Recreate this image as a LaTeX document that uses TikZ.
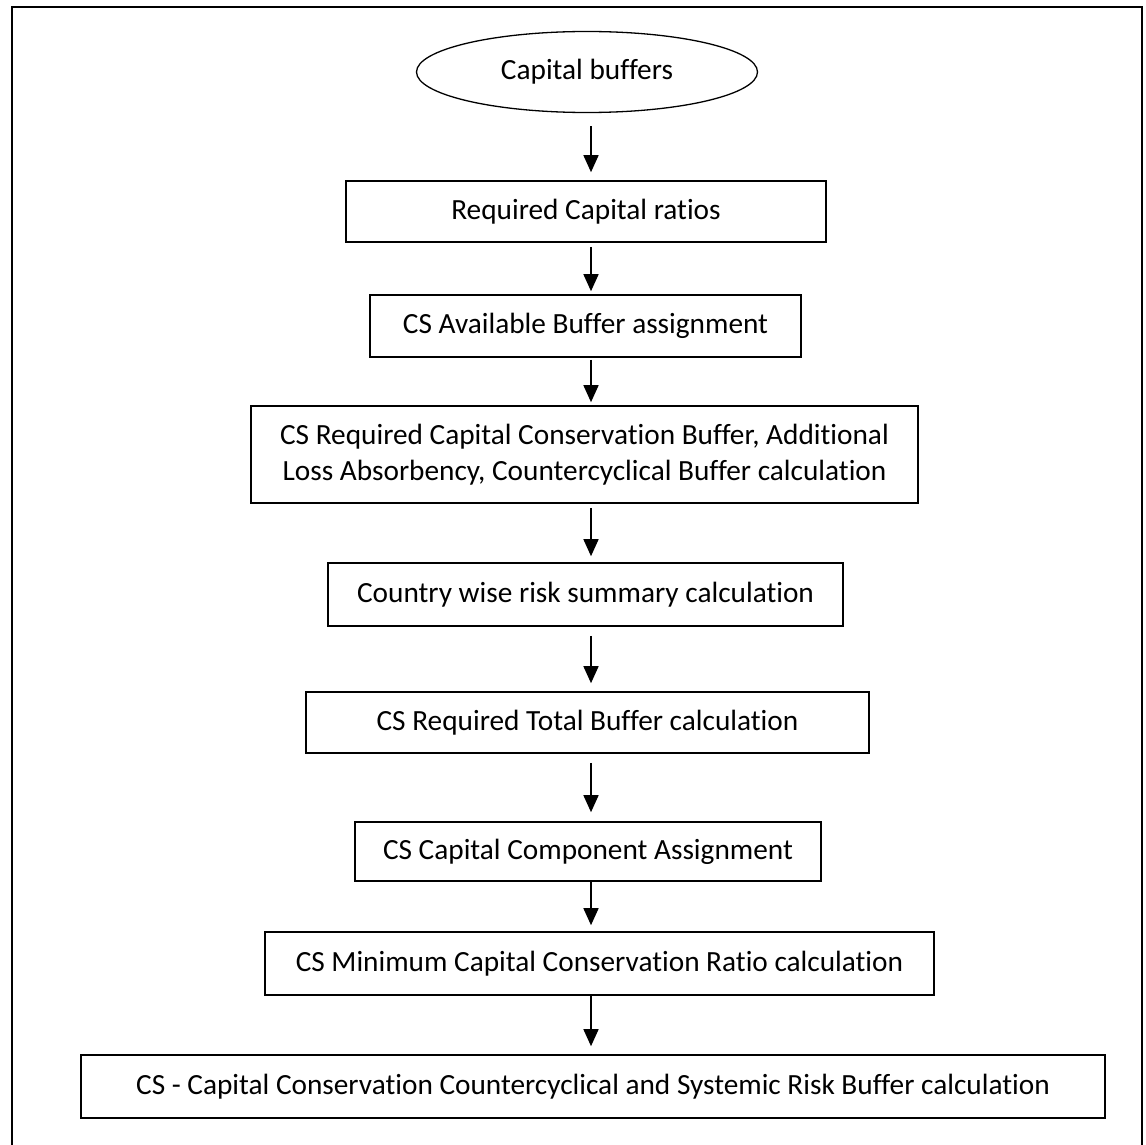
\documentclass[tikz,border=0pt]{standalone}
\usepackage{fontspec}
\setmainfont{Carlito}[Ligatures={NoCommon}]
\usetikzlibrary{arrows.meta,shapes.geometric}
\begin{document}
\begin{tikzpicture}[x=1pt,y=-1pt,
  box/.style={draw=black,line width=1.6pt,rectangle,inner sep=0pt,align=center,
    font=\fontsize{29.3}{36}\selectfont},
  flow/.style={line width=1.5pt,-{Triangle[length=17pt,width=15pt]}},
]
\useasboundingbox (0,0) rectangle (1146,1145);
\draw[line width=2.6pt] (12,1147) -- (12,7) -- (1142,7) -- (1142,1147);

\coordinate (ax) at (591,0);

\node[draw=black,ellipse,line width=1.3pt,inner sep=0pt,minimum width=341pt,minimum height=81pt,
  font=\fontsize{29.3}{36}\selectfont] (e) at (587,72) {Capital buffers};
\node[box,minimum width=480pt,minimum height=61pt] (b1) at (586,211.5) {Required Capital ratios};
\node[box,minimum width=431pt,minimum height=62pt] (b2) at (585.5,326) {CS Available Buffer assignment};
\node[box,minimum width=667pt,minimum height=97pt] (b3) at (584.5,454.5) {CS Required Capital Conservation Buffer, Additional\\Loss Absorbency, Countercyclical Buffer calculation};
\node[box,minimum width=515pt,minimum height=63pt] (b4) at (585.5,594.5) {Country wise risk summary calculation};
\node[box,minimum width=563pt,minimum height=61pt] (b5) at (587.5,722.5) {CS Required Total Buffer calculation};
\node[box,minimum width=466pt,minimum height=59pt] (b6) at (588,851.5) {CS Capital Component Assignment};
\node[box,minimum width=669pt,minimum height=63pt] (b7) at (599.5,963.5) {CS Minimum Capital Conservation Ratio calculation};
\node[box,minimum width=1024pt,minimum height=63pt] (b8) at (593,1086.5) {CS - Capital Conservation Countercyclical and Systemic Risk Buffer calculation};

\draw[flow,shorten <=13pt,shorten >=8pt] (e.south -| ax) -- (b1.north -| ax);
\draw[flow,shorten <=4pt,shorten >=3pt] (b1.south -| ax) -- (b2.north -| ax);
\draw[flow,shorten <=2pt,shorten >=3pt] (b2.south -| ax) -- (b3.north -| ax);
\draw[flow,shorten <=4pt,shorten >=6pt] (b3.south -| ax) -- (b4.north -| ax);
\draw[flow,shorten <=9pt,shorten >=8pt] (b4.south -| ax) -- (b5.north -| ax);
\draw[flow,shorten <=9pt,shorten >=9pt] (b5.south -| ax) -- (b6.north -| ax);
\draw[flow,shorten <=0pt,shorten >=6pt] (b6.south -| ax) -- (b7.north -| ax);
\draw[flow,shorten <=0pt,shorten >=8pt] (b7.south -| ax) -- (b8.north -| ax);
\end{tikzpicture}
\end{document}
